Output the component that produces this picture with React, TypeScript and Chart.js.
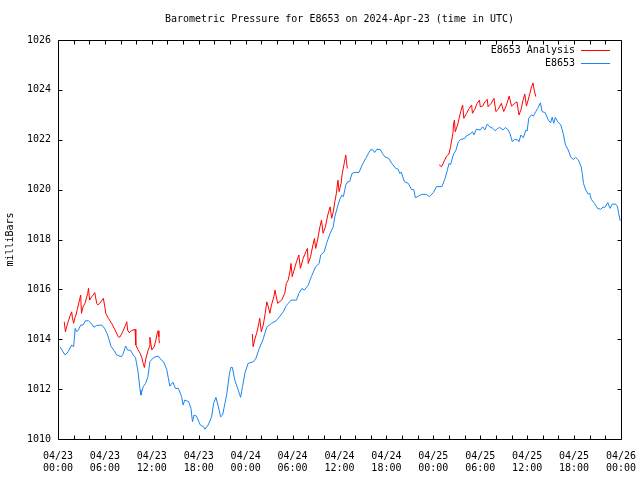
import React, { useEffect, useRef } from "react";
import { Chart, registerables } from "chart.js";

Chart.register(...registerables);

const TITLE = "Barometric Pressure for E8653 on 2024-Apr-23 (time in UTC)";
const Y_LABEL = "milliBars";
const SERIES_ANALYSIS = "E8653 Analysis";
const SERIES_STATION = "E8653";

const xTickLabels = [
  "04/23 00:00", "04/23 06:00", "04/23 12:00", "04/23 18:00",
  "04/24 00:00", "04/24 06:00", "04/24 12:00", "04/24 18:00",
  "04/25 00:00", "04/25 06:00", "04/25 12:00", "04/25 18:00",
  "04/26 00:00",
];
const yMin = 1010;
const yMax = 1026;
const yStep = 2;
const xMaxHours = 72;
const xLabelStep = 6;
const xTickStep = 2;

// hours since 2024-04-23 00:00 UTC
const stationHours = [
  0.25, 0.9, 1.3, 1.75, 2.0, 2.2, 2.4, 2.6, 2.9, 3.2, 3.5, 3.9, 4.25, 4.6, 4.9, 5.6, 5.95, 6.35, 6.8, 7.2,
  7.5, 8.1, 8.3, 8.65, 8.9, 9.3, 9.6, 9.9, 10.2, 10.5, 10.6, 10.9, 11.2, 11.5, 11.75, 12.2, 12.8, 13.2, 13.5, 13.9,
  14.3, 14.7, 15.0, 15.4, 15.8, 16.0, 16.2, 16.7, 17.0, 17.2, 17.4, 17.7, 18.2, 18.6, 18.8, 19.2, 19.65, 19.9, 20.2, 20.5,
  20.8, 21.05, 21.35, 21.6, 21.9, 22.1, 22.3, 22.6, 23.05, 23.35, 23.6, 23.9, 24.3, 25.0, 25.3, 25.75, 26.2, 26.7, 27.3, 27.9,
  28.4, 28.8, 29.2, 29.45, 29.8, 30.5, 30.8, 31.2, 31.5, 32.0, 32.4, 32.95, 33.4, 33.6, 34.05, 34.35, 34.8, 35.2, 35.4, 35.8,
  36.1, 36.3, 36.5, 36.8, 37.05, 37.3, 37.6, 38.0, 38.5, 38.9, 39.35, 39.7, 40.0, 40.3, 40.5, 40.75, 41.2, 41.5, 41.8, 42.3,
  42.7, 43.2, 43.5, 43.7, 43.9, 44.3, 44.8, 45.2, 45.5, 45.7, 46.0, 46.5, 47.1, 47.5, 48.0, 48.4, 49.1, 49.5, 49.8, 50.0,
  50.2, 50.55, 50.9, 51.2, 51.5, 52.0, 52.2, 52.7, 53.0, 53.2, 53.5, 54.0, 54.3, 54.6, 54.9, 55.2, 55.6, 55.9, 56.2, 56.5,
  56.9, 57.2, 57.5, 57.8, 58.1, 58.4, 58.8, 58.95, 59.2, 59.5, 59.85, 60.0, 60.2, 60.55, 60.8, 61.1, 61.35, 61.7, 61.9, 62.3,
  62.7, 63.0, 63.2, 63.4, 63.6, 63.9, 64.3, 64.6, 64.9, 65.25, 65.6, 65.9, 66.2, 66.55, 66.9, 67.05, 67.2, 67.5, 67.8, 68.0,
  68.2, 68.6, 69.0, 69.4, 69.7, 69.95, 70.3, 70.6, 70.9, 71.3, 71.55, 71.7, 71.9,
];
const stationPressure = [
  1013.70, 1013.37, 1013.50, 1013.77, 1013.70, 1014.44, 1014.30, 1014.37, 1014.57, 1014.57, 1014.74, 1014.74, 1014.64, 1014.48, 1014.55, 1014.57, 1014.44, 1014.17, 1013.70, 1013.54,
  1013.37, 1013.30, 1013.40, 1013.73, 1013.57, 1013.55, 1013.37, 1013.28, 1012.77, 1011.96, 1011.76, 1012.10, 1012.23, 1012.50, 1013.10, 1013.26, 1013.33, 1013.17, 1013.10, 1012.79,
  1012.12, 1012.28, 1012.03, 1012.03, 1011.70, 1011.36, 1011.56, 1011.50, 1011.23, 1010.69, 1010.96, 1010.92, 1010.56, 1010.49, 1010.39, 1010.56, 1010.89, 1011.43, 1011.67, 1011.30,
  1010.89, 1010.96, 1011.43, 1011.83, 1012.57, 1012.87, 1012.87, 1012.37, 1011.96, 1011.67, 1012.10, 1012.63, 1013.03, 1013.10, 1013.23, 1013.64, 1013.97, 1014.48, 1014.64, 1014.74,
  1014.93, 1015.10, 1015.35, 1015.44, 1015.57, 1015.57, 1015.84, 1016.04, 1015.97, 1016.17, 1016.51, 1016.91, 1017.04, 1017.38, 1017.51, 1017.85, 1018.25, 1018.51, 1018.91, 1019.38,
  1019.65, 1019.78, 1019.72, 1020.18, 1020.32, 1020.32, 1020.65, 1020.69, 1020.69, 1020.99, 1021.25, 1021.45, 1021.61, 1021.58, 1021.49, 1021.61, 1021.61, 1021.45, 1021.32, 1021.25,
  1021.05, 1020.85, 1020.82, 1020.65, 1020.70, 1020.32, 1020.25, 1020.01, 1020.00, 1019.68, 1019.72, 1019.81, 1019.81, 1019.72, 1019.88, 1020.12, 1020.12, 1020.45, 1020.79, 1021.05,
  1021.00, 1021.39, 1021.59, 1021.92, 1022.01, 1022.05, 1022.15, 1022.23, 1022.32, 1022.20, 1022.42, 1022.39, 1022.52, 1022.40, 1022.63, 1022.52, 1022.46, 1022.36, 1022.45, 1022.49,
  1022.39, 1022.49, 1022.42, 1022.25, 1021.92, 1022.01, 1021.99, 1021.92, 1022.19, 1022.08, 1022.39, 1022.35, 1022.86, 1023.00, 1022.95, 1023.13, 1023.26, 1023.48, 1023.13, 1023.09,
  1022.79, 1022.68, 1022.90, 1022.66, 1022.90, 1022.72, 1022.59, 1022.26, 1021.79, 1021.59, 1021.29, 1021.21, 1021.29, 1021.19, 1020.92, 1020.65, 1020.25, 1019.98, 1019.82, 1019.85,
  1019.61, 1019.45, 1019.25, 1019.21, 1019.30, 1019.29, 1019.48, 1019.25, 1019.42, 1019.42, 1019.32, 1019.05, 1018.75,
];

// null marks a break between analysis runs
const analysisHours = [
  0.8, 0.95, 1.1, 1.3, 1.5, 1.75, 1.85, 2.0, 2.15, 2.3, 2.5, 2.8, 2.9, 3.0, 3.2, 3.45, 3.8, 3.9, 4.05, 4.3,
  4.5, 4.7, 4.95, 5.1, 5.35, 5.65, 5.8, 6.0, 6.1, 6.45, 6.85, 7.3, 7.7, 7.9, 8.2, 8.55, 8.8, 8.9, 9.1, 9.4,
  9.85, 9.95, 10.2, 10.5, 10.7, 10.9, 11.05, 11.2, 11.5, 11.7, 11.75, 12.0, 12.3, 12.5, 12.7, 12.8, 12.9, 12.95,
  18.0,
  24.85, 24.95, 25.15, 25.4, 25.6, 25.8, 26.0, 26.25, 26.5, 26.7, 26.9, 27.1, 27.3, 27.6, 27.75, 28.0, 28.1, 28.6, 29.0, 29.2,
  29.45, 29.7, 29.8, 29.95, 30.2, 30.5, 30.8, 31.0, 31.35, 31.7, 31.9, 32.0, 32.3, 32.6, 32.8, 32.95, 33.2, 33.5, 33.7, 33.9,
  34.2, 34.5, 34.8, 35.0, 35.2, 35.4, 35.6, 35.8, 35.95, 36.2, 36.35, 36.6, 36.8, 36.9, 37.0,
  43.0,
  48.75, 49.05, 49.4, 49.7, 50.0, 50.2, 50.5, 50.6, 50.7, 50.8, 51.1, 51.5, 51.75, 51.9, 52.25, 52.6, 52.9, 53.0, 53.3, 53.6,
  53.9, 54.0, 54.3, 54.6, 54.9, 55.0, 55.4, 55.75, 56.0, 56.3, 56.7, 57.0, 57.35, 57.7, 58.0, 58.4, 58.7, 58.95, 59.2, 59.5,
  59.7, 59.9, 60.1, 60.35, 60.55, 60.75, 60.9, 61.1,
];
const analysisPressure = [
  1014.70, 1014.30, 1014.50, 1014.70, 1014.90, 1015.10, 1014.86, 1014.64, 1014.85, 1014.97, 1015.24, 1015.64, 1015.77, 1015.04, 1015.30, 1015.44, 1015.84, 1016.04, 1015.57, 1015.70,
  1015.77, 1015.87, 1015.44, 1015.38, 1015.44, 1015.57, 1015.64, 1015.28, 1015.04, 1014.84, 1014.64, 1014.37, 1014.10, 1014.08, 1014.25, 1014.50, 1014.70, 1014.37, 1014.26, 1014.34,
  1014.40, 1013.77, 1013.60, 1013.44, 1013.28, 1013.03, 1012.87, 1013.17, 1013.54, 1013.70, 1014.08, 1013.57, 1013.70, 1013.94, 1014.26, 1014.34, 1014.10, 1013.84,
  null,
  1014.21, 1013.70, 1013.97, 1014.24, 1014.50, 1014.84, 1014.30, 1014.57, 1015.04, 1015.50, 1015.30, 1015.04, 1015.37, 1015.70, 1015.97, 1015.57, 1015.44, 1015.57, 1015.84, 1016.24,
  1016.38, 1016.78, 1017.04, 1016.51, 1016.78, 1017.11, 1017.38, 1016.84, 1017.24, 1017.51, 1017.64, 1017.04, 1017.31, 1017.78, 1018.04, 1017.64, 1017.98, 1018.51, 1018.78, 1018.25,
  1018.51, 1018.98, 1019.31, 1018.85, 1019.11, 1019.51, 1019.85, 1020.38, 1019.92, 1020.25, 1020.65, 1021.05, 1021.39, 1021.12, 1020.85,
  null,
  1020.99, 1020.92, 1021.15, 1021.35, 1021.43, 1021.72, 1022.25, 1022.66, 1022.79, 1022.32, 1022.59, 1023.13, 1023.39, 1022.86, 1023.06, 1023.26, 1023.39, 1023.06, 1023.22, 1023.46,
  1023.59, 1023.32, 1023.35, 1023.52, 1023.62, 1023.32, 1023.46, 1023.66, 1023.13, 1023.22, 1023.46, 1023.13, 1023.39, 1023.75, 1023.35, 1023.46, 1023.52, 1022.99, 1023.19, 1023.62,
  1023.83, 1023.35, 1023.56, 1023.86, 1024.12, 1024.28, 1023.99, 1023.73,
];

const RED = "#ff0000";
const BLUE = "#1a86f0";
const FONT = "'DejaVu Sans Mono', 'Liberation Mono', monospace";

const framePlugin = {
  id: "gnuplotFrame",
  afterDatasetsDraw(chart: any) {
    const { ctx, chartArea: a, scales } = chart;
    const L = Math.round(a.left) + 0.5;
    const R = Math.round(a.right) + 0.5;
    const T = Math.round(a.top) + 0.5;
    const B = Math.round(a.bottom) + 0.5;
    ctx.save();
    ctx.strokeStyle = "#000";
    ctx.lineWidth = 1;
    ctx.beginPath();
    ctx.moveTo(L, T);
    ctx.lineTo(R, T);
    ctx.lineTo(R, B);
    ctx.lineTo(L, B);
    ctx.closePath();
    const tl = 4;
    for (let h = 0; h <= xMaxHours; h += xTickStep) {
      const x = Math.round(scales.x.getPixelForValue(h)) + 0.5;
      ctx.moveTo(x, B);
      ctx.lineTo(x, B - tl);
      ctx.moveTo(x, T);
      ctx.lineTo(x, T + tl);
    }
    for (let v = yMin; v <= yMax; v += yStep) {
      const y = Math.round(scales.y.getPixelForValue(v)) + 0.5;
      ctx.moveTo(L, y);
      ctx.lineTo(L + tl, y);
      ctx.moveTo(R, y);
      ctx.lineTo(R - tl, y);
    }
    ctx.stroke();

    ctx.fillStyle = "#000";
    ctx.font = `10px ${FONT}`;
    ctx.textBaseline = "middle";
    ctx.textAlign = "center";
    ctx.fillText(TITLE, (a.left + a.right) / 2, 19);

    ctx.save();
    ctx.translate(10, (a.top + a.bottom) / 2);
    ctx.rotate(-Math.PI / 2);
    ctx.fillText(Y_LABEL, 0, 0);
    ctx.restore();

    const items = [
      { label: SERIES_ANALYSIS, color: RED },
      { label: SERIES_STATION, color: BLUE },
    ];
    items.forEach((it, i) => {
      const y = 50 + i * 13;
      ctx.textAlign = "right";
      ctx.fillStyle = "#000";
      ctx.fillText(it.label, a.right - 46, y);
      ctx.strokeStyle = it.color;
      ctx.beginPath();
      ctx.moveTo(a.right - 40, Math.round(y) + 0.5);
      ctx.lineTo(a.right - 11, Math.round(y) + 0.5);
      ctx.stroke();
    });
    ctx.restore();
  },
};

export default function App() {
  const canvasRef = useRef<HTMLCanvasElement | null>(null);

  useEffect(() => {
    const canvas = canvasRef.current;
    if (!canvas) return;
    const stationData = stationHours.map((h, i) => ({ x: h, y: stationPressure[i] }));
    const analysisData = analysisHours.map((h, i) => ({ x: h, y: analysisPressure[i] }));
    const chart = new Chart(canvas, {
      type: "line",
      data: {
        datasets: [
          {
            label: SERIES_ANALYSIS,
            data: analysisData as any,
            borderColor: RED,
            borderWidth: 1,
            pointRadius: 0,
            tension: 0,
            spanGaps: false,
            fill: false,
          },
          {
            label: SERIES_STATION,
            data: stationData as any,
            borderColor: BLUE,
            borderWidth: 1,
            pointRadius: 0,
            tension: 0,
            fill: false,
          },
        ],
      },
      options: {
        responsive: false,
        animation: false,
        events: [],
        layout: { padding: { top: 40, right: 19, left: 0, bottom: 0 } },
        plugins: {
          legend: { display: false },
          title: { display: false },
          tooltip: { enabled: false },
        },
        scales: {
          x: {
            type: "linear",
            min: 0,
            max: xMaxHours,
            grid: { display: false, drawTicks: false },
            border: { display: false },
            ticks: {
              stepSize: xLabelStep,
              autoSkip: false,
              maxRotation: 0,
              minRotation: 0,
              padding: 11,
              color: "#000",
              font: { family: FONT, size: 10, lineHeight: 1.2 },
              callback: (v: any) => {
                const lbl = xTickLabels[Math.round(Number(v) / xLabelStep)];
                return lbl ? lbl.split(" ") : "";
              },
            },
            afterFit: (s: any) => {
              s.height = 41;
              s.paddingLeft = 0;
              s.paddingRight = 0;
            },
          },
          y: {
            min: yMin,
            max: yMax,
            grid: { display: false, drawTicks: false },
            border: { display: false },
            ticks: {
              stepSize: yStep,
              padding: 7,
              color: "#000",
              font: { family: FONT, size: 10 },
              callback: (v: any) => String(v),
            },
            afterFit: (s: any) => {
              s.width = 58;
              s.paddingTop = 0;
              s.paddingBottom = 0;
            },
          },
        },
      },
      plugins: [framePlugin],
    });
    return () => chart.destroy();
  }, []);

  return (
    <div style={{ position: "fixed", left: 0, top: 0, width: 640, height: 480, background: "#fff" }}>
      <canvas ref={canvasRef} width={640} height={480} style={{ display: "block" }} />
    </div>
  );
}
